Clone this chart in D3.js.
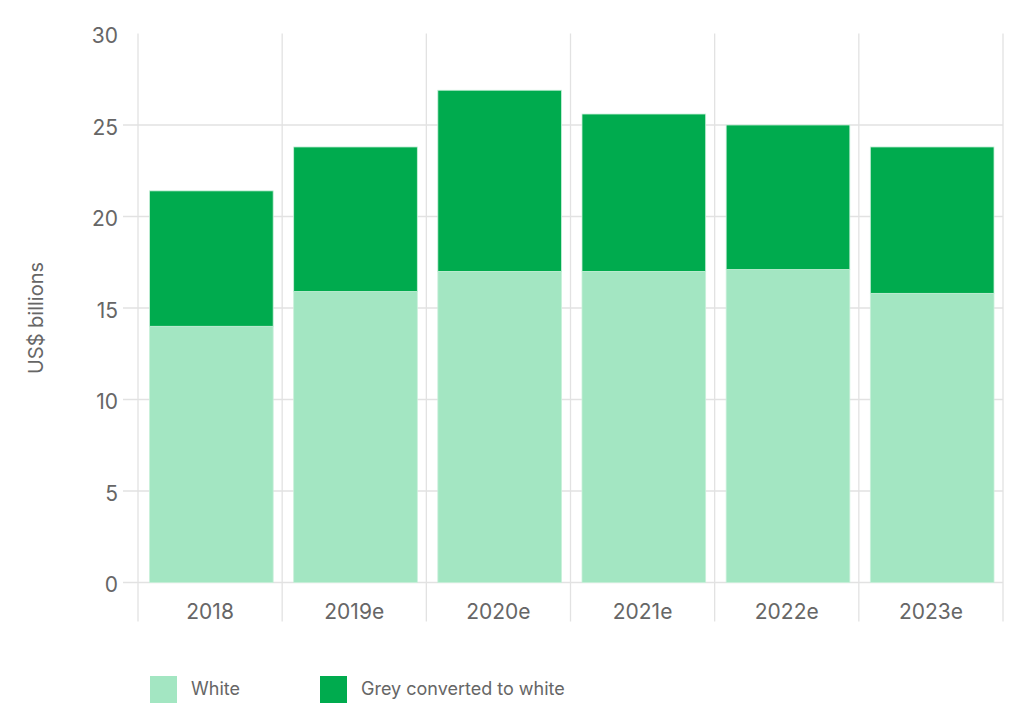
<!DOCTYPE html>
<html>
<head>
<meta charset="utf-8">
<script src="https://d3js.org/d3.v7.min.js"></script>
<style>
  body { margin: 0; background: #fff; }
  svg { display: block; font-family: Inter, "Noto Sans", sans-serif; }
</style>
</head>
<body>
<div id="chart"></div>
<script>
// Values (US$ billions)
const years = ['2018', '2019e', '2020e', '2021e', '2022e', '2023e'];
const whiteVals = [14.0, 15.9, 17.0, 17.0, 17.1, 15.8];
const greyVals = [7.4, 7.9, 9.9, 8.6, 7.9, 8.0];
const yTicks = [0, 5, 10, 15, 20, 25, 30];
const seriesNames = ['White', 'Grey converted to white'];
const seriesColors = ['#a3e6c2', '#00ab4e'];

const W = 1024, H = 721;
const m = { left: 138, right: 21, top: 33.5, bottom: 138.5 };

const svg = d3.select('#chart').append('svg')
  .attr('width', W).attr('height', H);

const x = d3.scaleBand().domain(years)
  .range([m.left, W - m.right])
  .paddingInner(0).paddingOuter(0);

const y = d3.scaleLinear().domain([0, 30])
  .range([H - m.bottom, m.top]);

const grid = '#e2e2e2';
const textCol = '#666666';

// horizontal gridlines (with tick stub to the left)
svg.append('g').selectAll('line')
  .data(yTicks.filter(t => t < 30))
  .join('line')
  .attr('x1', m.left - 15).attr('x2', W - m.right)
  .attr('y1', d => y(d)).attr('y2', d => y(d))
  .attr('stroke', grid).attr('stroke-width', 1.3);

// vertical band separators
const bounds = years.map(d => x(d)).concat([x(years[years.length - 1]) + x.bandwidth()]);
svg.append('g').selectAll('line')
  .data(bounds)
  .join('line')
  .attr('x1', d => d).attr('x2', d => d)
  .attr('y1', m.top).attr('y2', H - m.bottom + 39)
  .attr('stroke', grid).attr('stroke-width', 1.3);

// y tick labels
svg.append('g').selectAll('text')
  .data(yTicks)
  .join('text')
  .attr('x', m.left - 20)
  .attr('y', d => y(d) + 4)
  .attr('text-anchor', 'end')
  .attr('dominant-baseline', 'middle')
  .attr('fill', textCol)
  .style('font-size', '21px')
  .text(d => d);

// x labels
svg.append('g').selectAll('text')
  .data(years)
  .join('text')
  .attr('x', d => x(d) + x.bandwidth() / 2)
  .attr('y', H - m.bottom + 31)
  .attr('text-anchor', 'middle')
  .attr('dominant-baseline', 'middle')
  .attr('fill', textCol)
  .style('font-size', '21px')
  .text(d => d);

// y title
svg.append('text')
  .attr('transform', 'translate(38,318) rotate(-90)')
  .attr('text-anchor', 'middle')
  .attr('dominant-baseline', 'middle')
  .attr('fill', textCol)
  .style('font-size', '20px')
  .text('US$ billions');

// stacked bars
const rows = years.map((yr, i) => ({ year: yr, white: whiteVals[i], grey: greyVals[i] }));
const stack = d3.stack().keys(['white', 'grey'])(rows);
const padL = 11.5, padR = 9;

svg.append('g').selectAll('g')
  .data(stack)
  .join('g')
  .attr('fill', (d, i) => seriesColors[i])
  .selectAll('rect')
  .data(d => d)
  .join('rect')
  .attr('x', d => x(d.data.year) + padL)
  .attr('width', x.bandwidth() - padL - padR)
  .attr('y', d => y(d[1]))
  .attr('height', d => y(d[0]) - y(d[1]))
  .attr('stroke', '#c9f0da')
  .attr('stroke-width', 0.8);

// legend
const legX = [150, 320];
const leg = svg.append('g').selectAll('g')
  .data(seriesNames)
  .join('g')
  .attr('transform', (d, i) => `translate(${legX[i]},676)`);
leg.append('rect')
  .attr('width', 27).attr('height', 27)
  .attr('fill', (d, i) => seriesColors[i]);
leg.append('text')
  .attr('x', 41).attr('y', 14)
  .attr('dominant-baseline', 'middle')
  .attr('fill', textCol)
  .style('font-size', '18px')
  .text(d => d);
</script>
</body>
</html>
